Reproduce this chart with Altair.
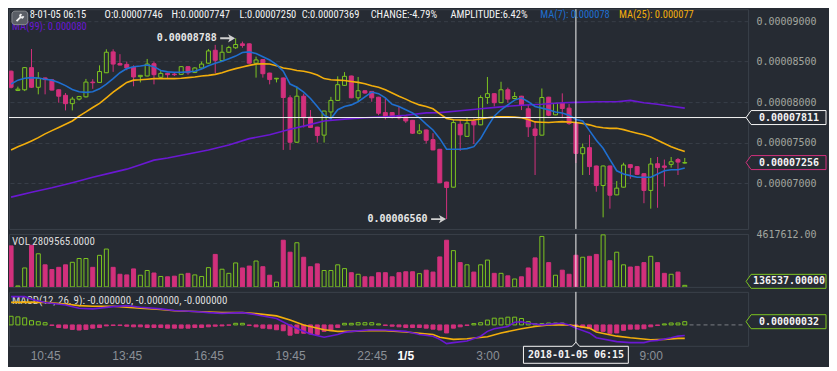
import altair as alt
import pandas as pd

# ---------------- colours / fonts ----------------
BG = "#262b33"
GRID = "#383e48"
BORDER = "#3a4049"
GREEN = "#7cc520"
PINK = "#d2307c"
BLUE = "#1f6fd0"
ORANGE = "#f2ae0c"
PURPLE = "#6a18d2"
AXIS_TXT = "#a2a69f"
XLAB = "#8b9097"
WHITE = "#f4f4f4"
MONO = "DejaVu Sans Mono"
SANS = "Liberation Sans"
NARROW = "Liberation Sans Narrow, Roboto Condensed, Liberation Sans"

# ---------------- data (prices in units of 1e-8) ----------------
K_START = -1  # first (partly hidden) candle; candle index 0 = 09:45 on 1/4, 15-min candles
OPEN = [8382,
 8145, 8153, 8426, 8184, 8299, 8276, 8153, 8085, 7982, 8038,
 8066, 8248, 8244, 8363, 8620, 8477, 8466, 8430, 8315, 8323,
 8474, 8307, 8355, 8347, 8343, 8438, 8367, 8422, 8481, 8640,
 8513, 8616, 8671, 8719, 8719, 8481, 8525, 8359, 8287, 8299,
 8054, 7507, 8074, 7816, 7693, 7594, 7880, 8022, 8208, 8323,
 8054, 8141, 8133, 8062, 7872, 7872, 7836, 7816, 7777, 7618,
 7658, 7539, 7420, 7016, 6953, 7729, 7579, 7769, 7721, 8058,
 8105, 7994, 8153, 8046, 8074, 7919, 7670, 7594, 8062, 7844,
 7990, 7927, 7746, 7365, 7440, 7214, 6973, 7214, 6858, 6953,
 7230, 7206, 7119, 6913, 7242, 7214, 7234, 7293, 7250]
CLOSE = [8184,
 8161, 8426, 8184, 8295, 8279, 8149, 8074, 7982, 8038, 8070,
 8248, 8240, 8378, 8616, 8470, 8458, 8422, 8311, 8331, 8470,
 8339, 8355, 8339, 8339, 8438, 8363, 8422, 8470, 8632, 8517,
 8616, 8675, 8711, 8699, 8481, 8521, 8351, 8279, 8295, 8058,
 7507, 8074, 7808, 7689, 7590, 7891, 8022, 8216, 8319, 8054,
 8141, 8113, 8054, 7864, 7824, 7816, 7808, 7769, 7618, 7646,
 7531, 7412, 7008, 6949, 7749, 7598, 7741, 7721, 8058, 8105,
 7994, 8153, 8038, 8070, 7959, 7697, 7590, 8058, 7840, 7986,
 7923, 7737, 7369, 7440, 7206, 6973, 7214, 6854, 6941, 7226,
 7194, 7111, 6913, 7238, 7194, 7198, 7266, 7262, 7256]
HIGH = [8390,
 8192, 8434, 8656, 8371, 8303, 8283, 8157, 8113, 8066, 8078,
 8287, 8283, 8454, 8652, 8652, 8592, 8501, 8454, 8335, 8533,
 8501, 8390, 8363, 8371, 8442, 8442, 8430, 8501, 8656, 8707,
 8707, 8695, 8788, 8747, 8723, 8561, 8529, 8363, 8299, 8303,
 8085, 8192, 8105, 7903, 7697, 7895, 8066, 8319, 8371, 8327,
 8311, 8145, 8137, 8066, 8054, 7876, 7951, 7820, 7781, 7729,
 7662, 7618, 7424, 7020, 7781, 7781, 7808, 7800, 8085, 8311,
 8109, 8252, 8180, 8125, 8078, 7967, 7761, 8169, 8066, 7990,
 8109, 7979, 7747, 7491, 7598, 7218, 7218, 7218, 7028, 7254,
 7234, 7210, 7123, 7313, 7325, 7293, 7325, 7313, 7313]
LOW = [8170,
 8137, 8137, 8176, 8097, 8097, 8145, 7994, 7899, 7899, 8022,
 8058, 8165, 8240, 8359, 8374, 8454, 8394, 8196, 8244, 8319,
 8220, 8295, 8299, 8323, 8339, 8339, 8359, 8410, 8474, 8359,
 8501, 8608, 8656, 8671, 8477, 8303, 8303, 8220, 8244, 7412,
 7412, 7499, 7689, 7685, 7503, 7503, 7796, 8018, 8200, 8050,
 8006, 8105, 8006, 7840, 7788, 7800, 7788, 7745, 7610, 7606,
 7491, 7408, 7004, 6560, 6949, 7400, 7575, 7484, 7717, 7979,
 7947, 7990, 7994, 8038, 7903, 7571, 7103, 7590, 7828, 7840,
 7804, 7721, 7250, 7103, 7103, 6897, 6581, 6688, 6854, 6949,
 7056, 7107, 6755, 6688, 6699, 6961, 7194, 7103, 7244]
VOL = [3638000,
 84000, 1679000, 3694000, 2939000, 1959000, 1539000, 1735000, 1959000, 2183000, 2519000,
 2519000, 1735000, 2799000, 3358000, 1735000, 1119000, 1063000, 1595000, 1035000, 1455000,
 1231000, 924000, 896000, 952000, 1119000, 1203000, 1063000, 924000, 1707000, 2883000,
 1567000, 1203000, 2127000, 1679000, 1847000, 2295000, 1791000, 1035000, 420000, 4142000,
 3078000, 3918000, 2631000, 1791000, 2043000, 1455000, 1455000, 1959000, 1623000, 1259000,
 1119000, 896000, 896000, 1259000, 1259000, 896000, 1259000, 1343000, 1343000, 1175000,
 1483000, 1315000, 2659000, 4142000, 3218000, 2155000, 1959000, 1315000, 1959000, 2379000,
 1203000, 1203000, 980000, 700000, 896000, 1679000, 2575000, 4478000, 2155000, 1035000,
 1483000, 1119000, 2809565, 2631000, 2715000, 2883000, 4617612, 2323000, 3078000, 1959000,
 1763000, 1819000, 2155000, 2715000, 2155000, 1203000, 1119000, 1315000, 136537]
MA7 = [8224,
 8272, 8295, 8303, 8299, 8283, 8272, 8244, 8204, 8157, 8129,
 8121, 8129, 8165, 8224, 8291, 8363, 8414, 8438, 8446, 8458,
 8438, 8390, 8374, 8370, 8370, 8374, 8382, 8410, 8450, 8481,
 8505, 8537, 8568, 8612, 8620, 8600, 8561, 8521, 8462, 8382,
 8224, 8184, 8125, 8046, 7947, 7840, 7796, 7907, 7947, 7967,
 8006, 8066, 8125, 8105, 8054, 7974, 7947, 7907, 7868, 7808,
 7729, 7658, 7551, 7420, 7420, 7420, 7428, 7452, 7551, 7697,
 7828, 7907, 7967, 8026, 8054, 8006, 7947, 7927, 7907, 7880,
 7868, 7840, 7788, 7769, 7650, 7531, 7432, 7293, 7155, 7115,
 7095, 7076, 7076, 7076, 7115, 7155, 7167, 7167, 7190]
MA25 = [7412,
 7452, 7484, 7523, 7563, 7610, 7650, 7689, 7729, 7769, 7828,
 7880, 7935, 7986, 8054, 8125, 8184, 8244, 8272, 8276, 8283,
 8291, 8291, 8291, 8291, 8295, 8303, 8311, 8323, 8331, 8343,
 8363, 8390, 8414, 8434, 8454, 8470, 8474, 8470, 8450, 8422,
 8410, 8390, 8382, 8363, 8335, 8291, 8276, 8272, 8268, 8256,
 8244, 8228, 8204, 8184, 8153, 8113, 8074, 8038, 7998, 7967,
 7947, 7919, 7856, 7800, 7784, 7780, 7777, 7780, 7792, 7808,
 7816, 7820, 7820, 7816, 7808, 7788, 7757, 7753, 7749, 7757,
 7761, 7757, 7749, 7737, 7721, 7697, 7685, 7678, 7678, 7662,
 7638, 7618, 7598, 7571, 7531, 7491, 7452, 7420, 7392]
MA99_K = [-1, 2, 5, 8, 11, 14, 16, 18, 20, 22, 25, 28, 31, 34, 37, 40, 42, 45, 48,
          51, 54, 57, 60, 62, 65, 68, 71, 74, 77, 80, 82, 85, 88, 90, 92, 94, 96, 98]
MA99 = [6830, 6890, 6945, 7008, 7076, 7135, 7175, 7230, 7286, 7313, 7361, 7412, 7472,
        7551, 7598, 7666, 7705, 7769, 7792, 7808, 7820, 7840, 7868, 7872, 7895, 7919,
        7943, 7963, 7974, 7994, 7998, 8006, 8006, 8022, 7994, 7974, 7951, 7927]
# MACD values in units of 1e-8
HIST = [86,
 80, 70, 42, 32, 22, -6, -26, -32, -45, -51,
 -45, -32, -26, -10, -6, -6, -13, -19, -19, -26,
 -26, -26, -32, -32, -32, -32, -26, -26, -19, -13,
 -10, -3, 16, 16, -6, -19, -32, -38, -48, -58,
 -102, -83, -83, -90, -96, -64, -58, -26, 16, 16,
 22, 22, 22, 10, -6, -13, -19, -26, -26, -26,
 -32, -42, -51, -80, -32, -19, -6, 13, 22, 48,
 67, 67, 77, 77, 64, 32, 13, 13, 19, 19,
 19, -6, -13, -26, -38, -58, -64, -83, -80, -54,
 -42, -42, -38, -19, -6, 10, 19, 19, 32]
DIF_K = [-1, 1, 2, 4, 7, 9, 11, 14, 16, 18, 21, 23, 26, 28, 30, 33, 35, 38, 40, 42,
         43, 45, 47, 48, 49, 52, 54, 57, 59, 61, 62, 63, 64, 66, 68, 69, 70, 72, 73, 74,
         75, 77, 79, 80, 81, 82, 84, 85, 88, 90, 92, 93, 94, 96, 97, 98]
DIF = [282, 282, 256, 224, 198, 166, 160, 182, 192, 176, 160, 144, 134, 122, 115, 122, 102, 64, -6, -64,
       -90, -122, -96, -74, -64, -48, -51, -64, -96, -112, -144, -186, -176, -160, -112, -64, -38, -16, 26, 32,
       16, 0, 13, 16, 0, -32, -80, -128, -166, -176, -176, -160, -154, -128, -112, -106]
DEA_K = [-1, 1, 4, 7, 9, 11, 14, 16, 18, 21, 23, 26, 28, 30, 33, 35, 38, 40, 42, 45,
         47, 49, 52, 54, 57, 59, 61, 62, 64, 66, 69, 71, 74, 76, 78, 81, 82, 84, 85, 88,
         90, 93, 95, 97, 98]
DEA = [224, 227, 224, 208, 192, 186, 186, 176, 166, 154, 141, 134, 128, 122, 122, 112, 90, 48, 0, -48,
       -64, -64, -54, -58, -70, -83, -96, -122, -144, -138, -118, -80, -38, -16, 0, 0, -10, -32, -70, -112,
       -128, -147, -144, -134, -134]

PRICE_TICKS = [7000, 7500, 8000, 8500, 9000]
TIME_K = [4, 16, 28, 40, 52, 69, 93]
TIME_LABELS = ["10:45", "13:45", "16:45", "19:45", "22:45", "3:00", "9:00"]
DAY_K, DAY_LABEL = 57, "1/5"
CROSS_K = 82
CROSS_PRICE = 7811
LAST_PRICE = 7256
HI_K, HI_P, HI_T = 32, 8788, "0.00008788"
LO_K, LO_P, LO_T = 63, 6560, "0.00006560"
VOL_MAX = 4617612
LAST_VOL = 136537
LAST_HIST = 32

HDR_TEXT = ["8-01-05 06:15", "O:0.00007746", "H:0.00007747", "L:0.00007250", "C:0.00007369",
            "CHANGE:-4.79%", "AMPLITUDE:6.42%", "MA(7): 0.000078", "MA(25): 0.000077", "MA(99): 0.000080"]
HDR_X = [21, 97, 165, 234, 297, 367, 448, 539, 619, 3]
HDR_Y = [6, 6, 6, 6, 6, 6, 6, 6, 6, 18.5]
HDR_C = [WHITE] * 7 + [BLUE, ORANGE, PURPLE]

# ---------------- layout ----------------
W = 740
H1, H2, H3 = 220, 53, 54
SX = W / 750.0
SY1 = H1 / 228.0
SY2 = H2 / 55.0
SY3 = H3 / 56.0
X_DOM = [-0.571, 106.571]

ks = list(range(K_START, K_START + len(OPEN)))
df = pd.DataFrame(dict(k=ks, open=OPEN, high=HIGH, low=LOW, close=CLOSE, vol=VOL, hist=HIST))
df["zero"] = 0
df["dir"] = ["up" if c > o else "down" for o, c in zip(OPEN, CLOSE)]
df["hdir"] = ["up" if h > 0 else "down" for h in HIST]
ma_df = pd.DataFrame(dict(k=ks, ma7=MA7, ma25=MA25))
ma99_df = pd.DataFrame(dict(k=MA99_K, v=MA99))
dif_df = pd.DataFrame(dict(k=DIF_K, v=DIF))
dea_df = pd.DataFrame(dict(k=DEA_K, v=DEA))
ONE = pd.DataFrame({"a": [0]})

xsc = alt.Scale(domain=X_DOM, nice=False, zero=False)
lab_expr = "''"
for kk, lab in reversed(list(zip(TIME_K, TIME_LABELS))):
    lab_expr = "datum.value == %d ? '%s' : (%s)" % (kk, lab, lab_expr)
time_axis = alt.Axis(orient="bottom", values=TIME_K, labelExpr=lab_expr, domain=False, ticks=False,
                     grid=False, labelOverlap=False, labelFont=SANS, labelFontSize=12, labelPadding=5,
                     labelColor=XLAB, title=None)
XN = alt.X("k:Q", scale=xsc, axis=None)          # price & volume panels (no x axis)
XT = alt.X("k:Q", scale=xsc, axis=time_axis)     # MACD panel (time axis), same in every layer
dir_color = alt.Color("dir:N", scale=alt.Scale(domain=["up", "down"], range=[GREEN, PINK]), legend=None)

psc = alt.Scale(domain=[6438, 9146], nice=False, zero=False)
price_axis = alt.Axis(orient="right", values=PRICE_TICKS, labelExpr="'0.0000' + datum.value",
                      grid=True, gridColor=GRID, gridDash=[4, 3], gridWidth=1, domain=False,
                      ticks=False, labelColor=AXIS_TXT, labelFont=MONO, labelFontSize=10,
                      labelPadding=8, title=None)
vsc = alt.Scale(domain=[0, 4700000], nice=False, zero=True)
vol_axis = alt.Axis(orient="right", values=[VOL_MAX], labelExpr="format(datum.value, '.2f')",
                    grid=False, domain=False, ticks=False, labelColor=AXIS_TXT, labelFont=MONO,
                    labelFontSize=10, labelPadding=8, title=None)
msc = alt.Scale(domain=[-208, 329], nice=False, zero=False)


def PY(f):
    return alt.Y(f + ":Q", scale=psc, axis=price_axis)


def VY(f):
    return alt.Y(f + ":Q", scale=vsc, axis=vol_axis)


def MY(f):
    return alt.Y(f + ":Q", scale=msc, axis=None)


BOX = "M -1 0 L -0.875 -0.175 L 1 -0.175 L 1 0.175 L -0.875 0.175 Z"
ARROW = "M -1 -0.12 L 0.25 -0.12 L 0.05 -0.55 L 1 0 L 0.05 0.55 L 0.25 0.12 L -1 0.12 Z"
DATEBOX = "M -1 -0.162 L -0.07 -0.162 L 0 -0.24 L 0.07 -0.162 L 1 -0.162 L 1 0.162 L -1 0.162 Z"
WRENCH = "M -0.7 0.7 L 0.15 -0.15 L 0.05 -0.55 L 0.35 -0.8 M 0.15 -0.15 L 0.55 -0.05 L 0.8 -0.35"


def tx(txt, x, y, color, size=10.5, font=SANS, weight="normal", align="left"):
    return alt.Chart(ONE).mark_text(text=txt, align=align, baseline="middle", font=font,
                                    fontSize=size, fontWeight=weight, color=color).encode(
        x=alt.value(x), y=alt.value(y))


def right_box(data, yenc, color, yoff=0):
    sym = alt.Chart(data).mark_point(shape=BOX, size=80 * 80, filled=True, fill=BG, stroke=color,
                                     strokeWidth=1, opacity=1, yOffset=yoff).encode(
        x=alt.value(W + 38), y=yenc)
    txt = alt.Chart(data).mark_text(align="center", baseline="middle", font=MONO, fontSize=10,
                                    fontWeight="bold", color=WHITE, yOffset=yoff).encode(
        x=alt.value(W + 41), y=yenc, text="t:N")
    return [sym, txt]


# ---------------- price panel ----------------
wick = alt.Chart(df).mark_rule(strokeWidth=1, clip=True).encode(
    x=XN, y=PY("low"), y2="high:Q", color=dir_color)
body_dn = alt.Chart(df).transform_filter("datum.dir == 'down'").mark_bar(
    size=4, fill=PINK, stroke=PINK, strokeWidth=1, clip=True).encode(x=XN, y=PY("open"), y2="close:Q")
body_up = alt.Chart(df).transform_filter("datum.dir == 'up'").mark_bar(
    size=4, fill=BG, stroke=GREEN, strokeWidth=1, clip=True).encode(x=XN, y=PY("open"), y2="close:Q")
ma99 = alt.Chart(ma99_df).mark_line(color=PURPLE, strokeWidth=1.6, clip=True).encode(x=XN, y=PY("v"))
ma25 = alt.Chart(ma_df).mark_line(color=ORANGE, strokeWidth=1.6, clip=True).encode(x=XN, y=PY("ma25"))
ma7 = alt.Chart(ma_df).mark_line(color=BLUE, strokeWidth=1.6, clip=True).encode(x=XN, y=PY("ma7"))

cross_k_df = pd.DataFrame({"k": [CROSS_K]})
vline_main = alt.Chart(cross_k_df).mark_rule(color=WHITE, strokeWidth=1).encode(x=XN)
hline = alt.Chart(pd.DataFrame({"p": [CROSS_PRICE]})).mark_rule(color=WHITE, strokeWidth=1).encode(y=PY("p"))

ann_df = pd.DataFrame({"k": [HI_K, LO_K], "p": [HI_P, LO_P], "t": [HI_T, LO_T]})
ann_txt = alt.Chart(ann_df).mark_text(align="right", baseline="middle", dx=-19, font=MONO, fontSize=10,
                                      fontWeight="bold", color="#e8e8e8").encode(x=XN, y=PY("p"), text="t:N")
ann_arr = alt.Chart(ann_df).mark_point(shape=ARROW, size=225, filled=True, fill="#d0d0d0",
                                       opacity=1, xOffset=-8).encode(x=XN, y=PY("p"))

pbox_df = pd.DataFrame({"p": [CROSS_PRICE], "t": ["0.0000" + str(CROSS_PRICE)]})
lbox_df = pd.DataFrame({"p": [LAST_PRICE], "t": ["0.0000" + str(LAST_PRICE)]})

hdr = [tx(t, x * SX, y * SY1, c, size=10.5, font=NARROW) for t, x, y, c in zip(HDR_TEXT, HDR_X, HDR_Y, HDR_C)]
icon_bg = alt.Chart(ONE).mark_rect(cornerRadius=3, fill="#5a5e66", stroke="#8a8d92", strokeWidth=1).encode(
    x=alt.value(3 * SX), x2=alt.value(19 * SX), y=alt.value(2 * SY1), y2=alt.value(16 * SY1))
icon_fg = alt.Chart(ONE).mark_point(shape=WRENCH, size=90, filled=False, stroke="#f0f0f0",
                                    strokeWidth=1.8, opacity=1).encode(
    x=alt.value(11 * SX), y=alt.value(9 * SY1))

main = alt.layer(
    wick, body_dn, body_up, ma99, ma25, ma7, hline, vline_main, ann_arr, ann_txt,
    *right_box(pbox_df, PY("p"), WHITE), *right_box(lbox_df, PY("p"), PINK),
    *hdr, icon_bg, icon_fg,
).properties(width=W, height=H1)

# ---------------- volume panel ----------------
vol_dn = alt.Chart(df).transform_filter("datum.dir == 'down'").mark_bar(
    size=4, fill=PINK, stroke=PINK, strokeWidth=1, clip=True).encode(x=XN, y=VY("vol"))
vol_up = alt.Chart(df).transform_filter("datum.dir == 'up'").mark_bar(
    size=4, fill=BG, stroke=GREEN, strokeWidth=1, clip=True).encode(x=XN, y=VY("vol"))
vbox_df = pd.DataFrame({"v": [LAST_VOL], "t": ["%d.00000" % LAST_VOL]})
vol = alt.layer(
    vol_dn, vol_up, vline_main, *right_box(vbox_df, VY("v"), GREEN, yoff=-4),
    tx("VOL 2809565.0000", 3 * SX, 8 * SY2, "#dcdcdc", size=11, font=NARROW),
).properties(width=W, height=H2)

# ---------------- MACD panel ----------------
hist_dn = alt.Chart(df).transform_filter("datum.hdir == 'down'").mark_bar(
    size=4, fill=PINK, stroke=PINK, strokeWidth=1, clip=True).encode(x=XT, y=MY("hist"), y2="zero:Q")
hist_up = alt.Chart(df).transform_filter("datum.hdir == 'up'").mark_bar(
    size=4, fill=BG, stroke=GREEN, strokeWidth=1, clip=True).encode(x=XT, y=MY("hist"), y2="zero:Q")
dash_df = pd.DataFrame({"k": [98.7], "k2": [X_DOM[1]], "h": [0]})
dash = alt.Chart(dash_df).mark_rule(color="#7a7e84", strokeDash=[4, 3], strokeWidth=1).encode(
    x=XT, x2="k2:Q", y=MY("h"))
dif = alt.Chart(dif_df).mark_line(color=PURPLE, strokeWidth=1.6, clip=True).encode(x=XT, y=MY("v"))
dea = alt.Chart(dea_df).mark_line(color=ORANGE, strokeWidth=1.6, clip=True).encode(x=XT, y=MY("v"))
vline_macd = alt.Chart(cross_k_df).mark_rule(color=WHITE, strokeWidth=1).encode(x=XT)
mbox_df = pd.DataFrame({"h": [LAST_HIST], "t": ["0.000000%d" % LAST_HIST]})
day_df = pd.DataFrame({"k": [DAY_K], "t": [DAY_LABEL]})
day_txt = alt.Chart(day_df).mark_text(align="center", baseline="top", font=SANS, fontSize=12,
                                      fontWeight="bold", color="#ffffff").encode(
    x=XT, y=alt.value(H3 + 5), text="t:N")
date_df = pd.DataFrame({"k": [CROSS_K], "t": ["2018-01-05 06:15"]})
date_box = alt.Chart(date_df).mark_point(shape=DATEBOX, size=105 * 105, filled=True, fill=BG,
                                         stroke=WHITE, strokeWidth=1, opacity=1).encode(
    x=XT, y=alt.value(H3 + 9))
date_txt = alt.Chart(date_df).mark_text(align="center", baseline="middle", font=MONO, fontSize=10,
                                        fontWeight="bold", color=WHITE).encode(
    x=XT, y=alt.value(H3 + 9), text="t:N")
macd = alt.layer(
    hist_dn, hist_up, dash,
    tx("MACD(12, 26, 9): -0.000000, -0.000000, -0.000000", 3 * SX, 9 * SY3, "#dcdcdc", size=11, font=NARROW),
    dea, dif, vline_macd, *right_box(mbox_df, MY("h"), GREEN), day_txt, date_box, date_txt,
).properties(width=W, height=H3)

chart = alt.vconcat(main, vol, macd, spacing=5, bounds="flush", padding=0, background=BG).configure_view(
    stroke=BORDER, strokeWidth=1)

chart.save("out.html", embed_options={"renderer": "svg", "actions": False})
